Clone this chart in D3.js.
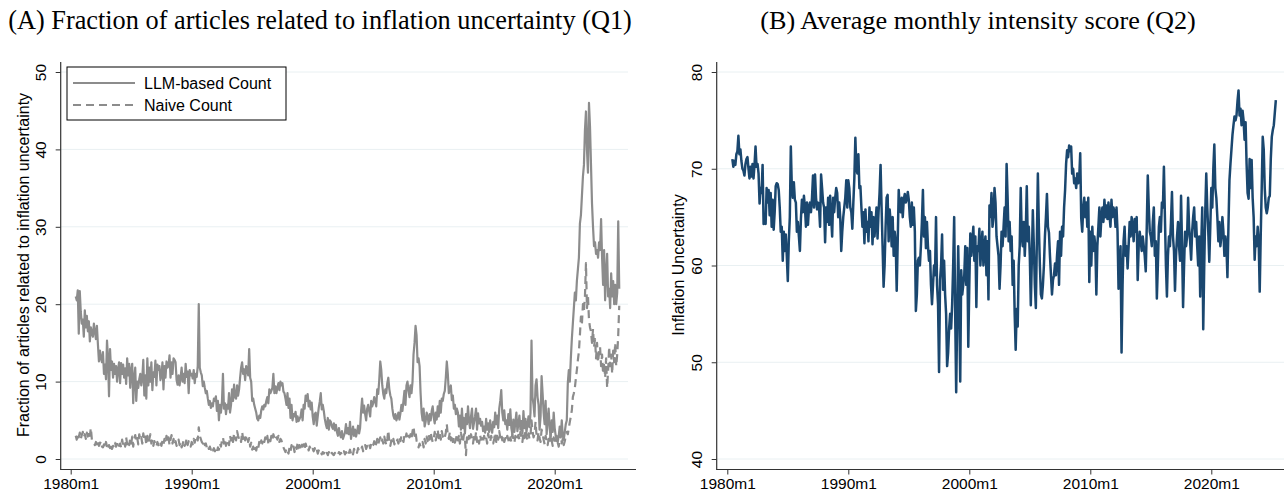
<!DOCTYPE html>
<html>
<head>
<meta charset="utf-8">
<script src="https://cdn.jsdelivr.net/npm/d3@7"></script>
<style>
  body { margin: 0; background: #fff; }
  svg { display: block; }
  text { font-family: "Liberation Sans", Arial, sans-serif; fill: #000; }
  .title { font-family: "Liberation Serif", "Times New Roman", serif; }
</style>
</head>
<body>
<svg id="chart" width="1284" height="493"></svg>
<script>
// first observation is 1980m6, monthly through 2025m5
const startYear = 1980, startMonth = 6;

const xTickLabels = ['1980m1', '1990m1', '2000m1', '2010m1', '2020m1'];
const yTicksA = [0, 10, 20, 30, 40, 50];
const yTicksB = [40, 50, 60, 70, 80];

// (A) share of articles, LLM-based classification (%)
const llmCount = [
  21.0, 20.5, 21.8, 16.2, 21.7, 19.0, 17.5,
  18.0, 15.8, 19.2, 17.0, 18.5, 16.5, 17.8, 15.2, 17.0, 16.3, 15.8, 17.5,
  16.5, 15.5, 17.2, 14.8, 12.6, 14.0, 13.0, 12.5, 13.8, 11.0, 12.2, 10.3,
  15.3, 13.0, 8.1, 14.2, 11.5, 12.6, 10.5, 12.3, 11.0, 12.0, 10.0, 11.6,
  12.5, 9.8, 12.4, 11.0, 12.2, 10.5, 11.7, 9.7, 13.0, 10.8, 12.3, 9.2,
  11.5, 12.3, 7.2, 10.5, 11.8, 7.5, 10.0, 9.2, 10.3, 11.0, 9.5, 10.5,
  12.8, 8.2, 10.8, 7.8, 13.0, 9.5, 11.8, 10.0, 12.5, 8.9, 11.2, 10.6,
  12.7, 9.5, 12.2, 11.5, 12.0, 10.2, 10.8, 12.5, 9.0, 12.0, 10.5, 12.6,
  11.8, 12.0, 13.4, 10.5, 12.5, 11.0, 13.0, 12.8, 12.5, 10.2, 9.6, 10.8,
  9.5, 10.5, 11.8, 10.0, 11.0, 9.8, 12.3, 10.6, 11.3, 8.5, 11.5, 10.8,
  11.0, 10.4, 11.5, 9.8, 11.0, 10.6, 12.0, 20.0, 11.8, 11.2, 10.8, 9.4,
  10.0, 9.2, 8.5, 8.8, 7.8, 7.0, 7.5, 6.6, 7.2, 6.8, 7.8, 7.5,
  8.1, 6.2, 7.5, 5.0, 7.0, 6.0, 7.4, 11.0, 6.5, 7.2, 5.8, 7.0,
  6.5, 8.5, 6.0, 7.0, 9.0, 7.5, 9.6, 8.0, 7.8, 9.5, 8.2, 9.0,
  10.5, 11.8, 12.5, 11.0, 11.6, 10.2, 12.0, 11.5, 10.8, 14.2, 10.5, 10.0,
  7.5, 7.8, 7.0, 6.5, 6.0, 5.2, 5.0, 5.6, 5.3, 6.3, 6.8, 6.4,
  7.0, 6.8, 7.5, 8.0, 7.2, 9.0, 8.5, 8.8, 9.2, 11.0, 8.5, 9.4,
  8.5, 9.2, 9.8, 8.9, 10.0, 9.5, 9.8, 8.7, 8.5, 7.8, 7.0, 8.5,
  6.6, 7.8, 5.3, 7.0, 5.0, 5.8, 5.5, 6.1, 4.8, 5.5, 4.9, 5.2,
  5.5, 6.4, 5.0, 7.0, 6.5, 8.2, 7.5, 8.4, 6.8, 7.5, 6.4, 7.3,
  5.5, 4.5, 5.8, 6.0, 4.3, 5.5, 6.6, 7.4, 8.5, 6.4, 7.0, 6.2,
  5.2, 4.5, 4.0, 5.3, 3.8, 5.0, 4.8, 4.2, 3.9, 4.6, 3.7, 4.4,
  3.5, 3.0, 4.0, 3.2, 2.8, 3.6, 2.6, 3.0, 3.4, 4.5, 3.3, 4.0,
  3.2, 4.8, 2.6, 3.4, 4.2, 3.0, 3.8, 2.9, 3.5, 4.3, 3.3, 4.0,
  6.2, 7.8, 6.0, 6.9, 5.8, 5.0, 6.5, 7.0, 6.2, 5.5, 7.5, 6.8,
  7.2, 8.0, 7.5, 6.8, 9.0, 8.4, 10.2, 12.6, 11.5, 9.5, 8.4, 7.8,
  9.0, 8.5, 9.8, 10.5, 9.0, 8.2, 7.8, 6.5, 5.6, 5.2, 5.8, 5.0,
  5.4, 6.0, 5.1, 5.9, 7.0, 6.2, 7.5, 8.8, 7.0, 9.5, 10.0, 8.8,
  8.0, 9.5, 8.5, 10.0, 13.5, 15.0, 17.2, 16.0, 12.5, 13.0, 12.0, 8.5,
  6.0, 5.0, 6.5, 4.2, 4.8, 6.0, 5.5, 4.5, 5.8, 5.0, 6.2, 6.8,
  5.4, 4.6, 6.0, 5.1, 6.8, 5.5, 7.5, 6.0, 7.8, 7.5, 8.4, 8.8,
  10.5, 12.6, 11.0, 8.5, 9.0, 9.5, 7.6, 8.2, 6.5, 7.0, 5.8, 6.5,
  6.0, 4.2, 5.6, 3.8, 6.5, 4.0, 5.3, 3.3, 5.8, 4.5, 6.8, 5.0,
  4.0, 5.5, 6.5, 3.9, 4.7, 5.5, 6.5, 3.8, 5.9, 4.6, 5.2, 4.3,
  4.8, 3.6, 4.2, 3.4, 5.2, 3.8, 4.6, 3.5, 5.0, 4.0, 3.4, 4.8,
  4.1, 6.0, 4.5, 5.6, 4.0, 6.5, 7.5, 8.9, 6.0, 5.0, 6.3, 4.5,
  5.0, 3.8, 5.8, 4.4, 6.4, 4.0, 3.2, 5.1, 3.5, 4.8, 6.0, 3.6,
  4.5, 5.6, 3.8, 4.9, 3.3, 6.2, 4.0, 5.2, 3.5, 4.4, 5.5, 4.1,
  6.0, 15.3, 8.0, 7.0, 5.5, 9.5, 10.3, 8.0, 7.0, 3.8, 5.5, 10.7,
  8.5, 6.0, 4.5, 7.5, 3.2, 5.0, 6.5, 4.0, 2.8, 5.0, 3.5, 6.0,
  4.0, 3.0, 2.5, 2.2, 3.0, 4.2, 2.8, 5.0, 3.0, 2.5, 3.5, 4.5,
  5.0, 9.8, 11.5, 10.0, 13.0, 15.5, 17.5, 19.5, 21.5, 20.5, 23.0, 24.5,
  26.0, 30.4, 31.5, 34.0, 36.5, 38.0, 42.5, 44.9, 40.0, 37.0, 46.0, 43.0,
  38.0, 33.0, 30.0, 27.5, 28.0, 26.5, 27.0, 26.0, 28.0, 27.0, 31.0, 26.0,
  22.5, 27.0, 20.5, 24.0, 26.5, 21.0, 22.0, 19.5, 24.0, 21.0, 23.0, 20.0,
  22.5, 20.0, 21.5, 30.7, 22.0
];

// (A) share of articles, keyword (naive) count (%)
const naiveCount = [
  3.0, 2.5, 3.3, 2.8, 3.4, 2.6, 3.1,
  3.5, 2.8, 3.2, 2.6, 3.4, 2.9, 3.6, 3.0, 4.0, 2.5, 2.2, 2.0,
  1.8, 2.2, 1.9, 2.4, 1.7, 2.0, 2.3, 1.6, 1.5, 1.9, 1.4, 2.2,
  1.6, 1.2, 1.8, 1.4, 2.0, 1.3, 1.7, 1.5, 2.1, 1.6, 1.9, 2.3,
  1.7, 2.0, 1.5, 2.5, 1.8, 2.2, 1.6, 2.8, 1.9, 2.4, 1.8, 2.6,
  2.0, 2.9, 1.6, 2.5, 3.1, 2.2, 2.7, 1.9, 3.2, 2.5, 2.8, 2.0,
  3.3, 2.4, 2.9, 1.8, 3.0, 2.2, 2.6, 3.2, 2.0, 2.5, 1.7, 2.3,
  2.0, 1.6, 2.2, 1.8, 1.5, 2.0, 1.7, 2.4, 1.9, 2.6, 2.1, 3.0,
  2.2, 2.8, 1.8, 2.5, 3.1, 2.0, 2.6, 1.9, 2.3, 1.7, 2.1, 2.5,
  1.8, 2.2, 1.5, 1.9, 2.4, 1.7, 2.0, 2.7, 1.8, 2.3, 2.0, 1.6,
  2.2, 1.9, 2.6, 2.1, 2.8, 3.0, 2.4, 4.1, 3.0, 2.6, 2.2, 2.0,
  2.4, 1.8, 2.0, 1.5, 1.8, 1.3, 1.6, 1.2, 1.5, 1.1, 1.4, 1.0,
  1.3, 0.9, 1.5, 1.2, 2.0, 1.6, 2.4, 2.8, 2.0, 2.6, 1.7, 2.2,
  2.5, 1.8, 3.0, 2.4, 2.9, 2.2, 3.3, 2.7, 2.4, 3.6, 3.0, 2.6,
  2.8, 2.2, 3.5, 2.6, 3.2, 2.4, 2.8, 3.1, 2.2, 2.7, 1.6, 2.1,
  1.2, 1.6, 0.9, 1.4, 1.1, 1.8, 1.4, 2.2, 1.7, 2.4, 2.0, 2.6,
  2.2, 2.8, 2.4, 3.0, 2.0, 2.6, 2.3, 3.0, 2.5, 3.2, 2.7, 2.4,
  2.8, 2.5, 3.0, 2.2, 2.6, 2.4, 1.9, 1.5, 1.2, 0.9, 1.4, 1.0,
  0.7, 1.5, 1.0, 1.8, 1.2, 1.6, 0.9, 1.7, 1.3, 2.0, 1.4, 1.8,
  1.5, 2.2, 1.6, 1.9, 1.2, 2.0, 1.5, 1.7, 1.1, 1.6, 1.3, 1.0,
  1.3, 1.0, 1.4, 0.9, 1.2, 0.7, 1.1, 0.8, 1.0, 0.6, 0.9, 0.7,
  1.0, 0.6, 0.8, 0.5, 0.9, 0.7, 0.4, 0.8, 0.6, 0.5, 0.8, 0.6,
  0.7, 0.5, 0.9, 0.6, 0.8, 0.5, 0.7, 1.0, 0.6, 0.9, 0.7, 1.1,
  0.8, 1.2, 0.7, 1.0, 0.6, 1.3, 0.9, 1.1, 0.8, 1.4, 1.0, 1.2,
  1.2, 1.6, 1.0, 1.4, 1.8, 1.3, 1.7, 1.5, 1.9, 1.4, 2.0, 1.6,
  1.8, 2.3, 1.5, 2.0, 2.6, 1.9, 2.4, 2.8, 2.1, 2.5, 2.0, 2.9,
  2.3, 1.8, 2.6, 3.7, 2.2, 1.7, 2.4, 2.0, 2.6, 1.9, 2.3, 2.1,
  2.5, 2.0, 2.8, 2.3, 3.0, 2.6, 2.2, 3.1, 2.7, 3.3, 2.5, 3.0,
  2.8, 3.2, 2.6, 3.6, 4.2, 3.0, 3.5, 2.4, 1.9, 1.5, 2.0, 1.6,
  1.8, 2.2, 1.5, 2.6, 2.0, 2.9, 2.3, 3.2, 2.5, 3.4, 2.7, 2.2,
  2.6, 3.5, 2.4, 3.0, 3.8, 2.7, 3.3, 2.5, 3.6, 2.9, 3.2, 2.8,
  3.4, 4.5, 3.0, 2.6, 3.5, 2.4, 3.1, 2.2, 2.8, 2.1, 2.5, 3.2,
  2.4, 3.0, 2.0, 3.4, 2.5, 2.1, 3.2, 2.6, 0.5, 2.8, 2.2, 3.0,
  2.3, 3.2, 2.6, 2.0, 3.0, 2.4, 3.5, 2.2, 2.8, 2.0, 3.1, 2.5,
  2.7, 2.1, 3.0, 2.4, 2.8, 2.0, 3.3, 2.6, 2.2, 3.0, 2.4, 2.0,
  2.6, 3.4, 2.2, 3.0, 2.5, 3.6, 2.8, 3.3, 2.4, 3.0, 2.2, 2.7,
  2.3, 3.0, 2.5, 2.0, 2.8, 2.2, 3.2, 2.6, 2.1, 3.0, 2.4, 2.8,
  3.1, 2.5, 3.5, 2.8, 2.2, 3.4, 2.7, 3.8, 2.9, 2.4, 3.3, 2.6,
  3.0, 5.0, 3.6, 2.8, 3.2, 4.8, 3.0, 2.4, 3.5, 2.7, 2.2, 3.8,
  3.2, 2.5, 1.9, 3.0, 2.3, 1.8, 2.6, 2.0, 3.3, 2.4, 1.7, 2.8,
  2.2, 1.9, 3.0, 2.1, 1.6, 2.4, 3.4, 2.0, 2.6, 1.8, 2.3, 3.0,
  3.5, 3.2, 4.0, 4.8, 5.5, 6.3, 8.0, 8.5, 9.2, 10.4, 11.5, 12.8,
  13.9, 16.0, 18.4, 17.5, 20.0, 19.2, 21.0, 25.3, 19.5, 21.0, 18.0, 17.0,
  16.5, 15.0, 16.8, 14.5, 15.5, 13.0, 15.0, 12.5, 13.8, 14.5, 12.0, 13.5,
  11.0, 12.5, 10.5, 13.0, 9.2, 11.5, 14.5, 12.0, 13.5, 11.0, 14.0, 12.5,
  15.0, 12.0, 13.5, 16.0, 19.8
];

// (B) average monthly intensity score
const intensity = [
  71.0, 70.2, 70.8, 70.4, 71.5, 71.8, 73.4,
  71.5, 72.0, 70.8, 70.0, 69.8, 69.3, 70.5, 71.0, 71.2, 70.0, 69.0, 70.2,
  69.2, 70.5, 69.0, 70.4, 72.3, 70.2, 70.5, 69.5, 66.4, 68.0, 67.5, 70.4,
  64.3, 64.8, 64.3, 68.0, 66.5, 67.8, 65.2, 67.5, 64.0, 66.8, 63.7, 65.5,
  68.2, 68.5, 68.4, 67.8, 66.0, 63.5, 64.0, 60.5, 63.5, 61.5, 63.2, 61.0,
  58.4, 62.5, 65.0, 72.3, 68.0, 67.0, 68.6, 66.8, 66.5, 63.5, 64.5, 63.0,
  61.5, 64.8, 66.8, 65.5, 67.2, 66.0, 64.0, 66.5, 64.2, 66.0, 66.5, 65.5,
  67.0, 69.3, 66.0, 69.4, 67.0, 65.8, 66.5, 66.0, 64.0, 69.4, 68.0, 66.5,
  66.0, 62.4, 66.0, 64.5, 67.0, 64.2, 67.2, 65.0, 63.0, 67.0, 65.5, 67.0,
  68.0, 67.5, 65.0, 66.5, 65.0, 61.5, 63.5, 65.0, 66.0, 67.0, 68.8, 66.0,
  68.8, 68.0, 66.0, 65.5, 63.8, 66.5, 69.0, 73.2, 70.0, 69.5, 71.5, 68.0,
  68.2, 66.0, 64.0, 65.5, 62.3, 65.8, 63.5, 64.5, 62.5, 66.0, 64.0, 65.5,
  62.2, 65.0, 63.0, 64.5, 66.0, 62.8, 65.5, 67.5, 70.4, 66.0, 62.0, 57.8,
  60.0, 64.0, 67.0, 67.3, 62.5, 65.8, 64.5, 62.0, 65.0, 61.0, 63.5, 62.5,
  57.4, 62.5, 67.8, 66.0, 65.5, 67.0, 65.0, 66.8, 67.4, 66.5, 66.8, 67.6,
  66.8, 65.0, 64.0, 66.5, 64.2, 66.0, 63.5, 55.3, 57.0, 60.5, 60.8, 60.0,
  62.0, 64.5, 67.8, 63.0, 65.0, 61.8, 64.5, 62.0, 60.5, 61.5, 58.0, 56.0,
  58.0, 60.0, 59.0, 65.0, 58.0, 56.0, 49.0, 58.5, 60.0, 63.2, 57.5, 60.5,
  57.0, 55.0, 49.6, 51.0, 53.5, 55.0, 53.5, 56.0, 60.0, 65.0, 55.0, 46.9,
  55.0, 62.0, 56.0, 48.0, 59.5, 57.0, 58.0, 59.0, 62.0, 58.0, 61.8, 51.6,
  58.0, 63.3, 61.0, 62.5, 64.0, 60.5, 63.0, 55.7, 62.0, 61.5, 63.8, 60.0,
  62.0, 63.5, 60.0, 61.8, 63.0, 59.0, 62.5, 56.5, 66.2, 65.0, 67.5, 64.0,
  65.0, 68.0, 66.5, 63.0, 62.0, 61.0, 57.6, 60.0, 63.5, 62.0, 64.0, 66.0,
  63.0, 70.5, 67.0, 62.5, 64.5, 61.5, 63.0, 58.0, 60.5, 55.0, 51.3, 55.5,
  53.7, 60.0, 62.0, 68.0, 63.0, 62.0, 64.5, 61.0, 63.5, 68.2, 62.5, 64.0,
  61.0, 55.9, 60.5, 65.7, 62.0, 58.0, 55.6, 62.5, 69.5, 64.0, 60.0, 57.0,
  56.6, 58.0, 60.0, 63.0, 65.0, 67.4, 64.0, 63.4, 61.0, 59.0, 57.0, 58.5,
  59.0, 60.2, 59.0, 61.0, 62.5, 58.0, 63.5, 61.0, 64.0, 63.0, 66.0, 67.8,
  70.5, 71.9, 71.2, 72.4, 71.8, 72.3, 69.5, 70.0, 68.5, 69.0, 68.0, 69.5,
  68.5, 69.0, 71.6, 64.9, 63.5, 66.0, 67.0, 65.0, 66.5, 64.0, 67.0, 58.3,
  63.5, 60.0, 64.0, 61.5, 63.0, 62.0, 57.0, 62.0, 64.0, 66.0, 63.0, 65.0,
  66.0, 64.5, 66.8, 65.0, 66.2, 64.8, 66.5, 65.2, 64.0, 66.8, 65.0, 66.0,
  65.5, 64.0, 66.0, 63.5, 57.6, 60.0, 62.0, 51.0, 58.0, 62.5, 64.0, 61.0,
  62.0, 59.7, 62.0, 64.5, 63.0, 65.0, 64.0, 62.5, 64.8, 63.5, 65.0, 58.5,
  62.0, 63.5, 62.5, 61.5, 63.0, 62.0, 61.0, 59.4, 64.0, 69.3, 66.0, 63.5,
  63.0, 62.0, 64.5, 66.0, 61.0, 62.5, 56.6, 60.0, 64.0, 65.0, 63.5, 66.5,
  66.0, 70.2, 65.0, 60.0, 56.8, 61.0, 63.0, 62.0, 64.5, 67.6, 63.0, 61.5,
  57.4, 61.0, 63.0, 64.5, 62.0, 60.5, 67.2, 62.0, 55.7, 60.0, 63.5, 62.0,
  63.0, 67.0, 64.0, 62.5, 60.6, 63.5, 65.0, 66.0, 63.0, 64.5, 62.0, 60.0,
  63.0, 56.8, 62.0, 66.0, 53.4, 60.0, 65.5, 69.5, 66.0, 63.5, 60.4, 64.0,
  68.0, 66.0, 70.0, 72.5, 68.0, 67.0, 65.0, 62.5, 64.5, 62.0, 63.0, 65.0,
  63.5, 61.0, 63.0, 62.0, 58.8, 64.0, 68.8, 70.5, 72.0, 73.5, 74.5, 75.4,
  75.0, 75.5, 77.0, 78.1, 75.5, 76.2, 74.5, 76.0, 75.0, 73.0, 74.8, 70.5,
  67.5, 66.9, 71.0, 68.0, 70.9, 67.0, 65.0, 60.6, 63.0, 62.0, 64.0, 62.5,
  57.3, 63.0, 68.0, 73.3, 72.0, 68.0, 66.0, 65.4, 66.0, 67.0, 67.2, 71.0,
  73.3, 74.0, 74.5, 75.8, 77.1
];

// Stata-style monthly index: months since 1980m1
const firstIdx = (startYear - 1980) * 12 + (startMonth - 1);
const toPoints = (arr) => arr.map((v, i) => ({ t: firstIdx + i, v: v }));
const tickIdx = xTickLabels.map((s) => (+s.slice(0, 4) - 1980) * 12);

const svg = d3.select('#chart');
const gridColor = '#e9f0f2';
const grey = '#8c8c8c';
const navy = '#1a476f';

function drawPanel(opt) {
  const g = svg.append('g');
  const x = d3.scaleLinear().domain([0, 480]).range(opt.xRange);
  const y = d3.scaleLinear().domain(opt.yDomain).range([459, 72]);

  // grid
  g.selectAll('line.grid').data(opt.yTicks).enter().append('line')
      .attr('x1', opt.axisX).attr('x2', opt.gridEnd)
      .attr('y1', (d) => y(d)).attr('y2', (d) => y(d))
      .attr('stroke', gridColor).attr('stroke-width', 1);

  // y axis
  const yAxis = g.append('g')
      .attr('transform', 'translate(' + opt.axisX + ',0)')
      .call(d3.axisLeft(y).tickValues(opt.yTicks).tickSize(5).tickFormat(d3.format('d')));
  yAxis.select('.domain').remove();
  yAxis.append('line').attr('x1', 0).attr('x2', 0).attr('y1', 62).attr('y2', 470)
      .attr('stroke', '#333').attr('stroke-width', 1.2);
  yAxis.selectAll('.tick line').attr('stroke', '#333');
  yAxis.selectAll('.tick text')
      .attr('x', null).attr('dy', null)
      .attr('transform', 'translate(' + (opt.tickLabelX - opt.axisX) + ',0) rotate(-90)')
      .attr('text-anchor', 'middle').attr('dy', '0.35em')
      .attr('font-size', 15.5).attr('font-family', 'Liberation Sans, Arial, sans-serif');

  // x axis
  const xAxis = g.append('g')
      .attr('transform', 'translate(0,469.5)')
      .call(d3.axisBottom(x).tickValues(tickIdx).tickSize(5).tickFormat((d, i) => xTickLabels[i]));
  xAxis.select('.domain').remove();
  xAxis.append('line').attr('x1', opt.axisX).attr('x2', opt.axisEnd).attr('y1', 0).attr('y2', 0)
      .attr('stroke', '#333').attr('stroke-width', 1.2);
  xAxis.selectAll('.tick line').attr('stroke', '#333');
  xAxis.selectAll('.tick text').attr('y', 8).attr('dy', '0.71em')
      .attr('font-size', 15.5).attr('font-family', 'Liberation Sans, Arial, sans-serif');

  // y title
  g.append('text')
      .attr('transform', 'translate(' + opt.yTitleX + ',265) rotate(-90)')
      .attr('text-anchor', 'middle').attr('dy', '0.35em')
      .attr('font-size', 16)
      .text(opt.yTitle);

  // series
  const line = d3.line().x((d) => x(d.t)).y((d) => y(d.v));
  opt.series.forEach((s) => {
    g.append('path')
        .datum(toPoints(s.values))
        .attr('fill', 'none')
        .attr('stroke', s.color)
        .attr('stroke-width', s.width)
        .attr('stroke-linejoin', 'round')
        .attr('stroke-dasharray', s.dash || null)
        .attr('d', line);
  });

  // panel title, scaled to the measured width of the original
  const t = svg.append('text').attr('class', 'title')
      .attr('x', opt.titleX).attr('y', 29)
      .attr('text-anchor', 'middle')
      .attr('font-size', 23)
      .text(opt.title);
  const w = t.node().getComputedTextLength();
  t.attr('font-size', 23 * opt.titleWidth / w);
  return g;
}

drawPanel({
  xRange: [70.7, 554.7], yDomain: [0, 50], yTicks: yTicksA,
  axisX: 60.7, axisEnd: 636, gridEnd: 628, tickLabelX: 40.5, yTitleX: 23,
  yTitle: 'Fraction of articles related to inflation uncertainty',
  title: '(A)  Fraction of articles related to inflation uncertainty (Q1)',
  titleX: 320, titleWidth: 624,
  series: [
    { values: naiveCount, color: grey, width: 2.2, dash: '8,5' },
    { values: llmCount, color: grey, width: 2.2 }
  ]
});

drawPanel({
  xRange: [727.3, 1211.3], yDomain: [40, 80], yTicks: yTicksB,
  axisX: 716.7, axisEnd: 1284, gridEnd: 1284, tickLabelX: 697, yTitleX: 678,
  yTitle: 'Inflation Uncertainty',
  title: '(B)  Average monthly intensity score (Q2)',
  titleX: 978, titleWidth: 436,
  series: [
    { values: intensity, color: navy, width: 2.5 }
  ]
});

// legend for panel A
const legend = svg.append('g');
legend.append('rect').attr('x', 67).attr('y', 67).attr('width', 219).attr('height', 53)
    .attr('fill', '#fff').attr('stroke', '#000').attr('stroke-width', 1);
const legendItems = [
  { label: 'LLM-based Count', dash: null, y: 83 },
  { label: 'Naive Count', dash: '8,5', y: 105 }
];
legendItems.forEach((d) => {
  legend.append('line').attr('x1', 73).attr('x2', 135).attr('y1', d.y).attr('y2', d.y)
      .attr('stroke', grey).attr('stroke-width', 2.2).attr('stroke-dasharray', d.dash);
  legend.append('text').attr('x', 144).attr('y', d.y).attr('dy', '0.35em')
      .attr('font-size', 16).text(d.label);
});
</script>
</body>
</html>
